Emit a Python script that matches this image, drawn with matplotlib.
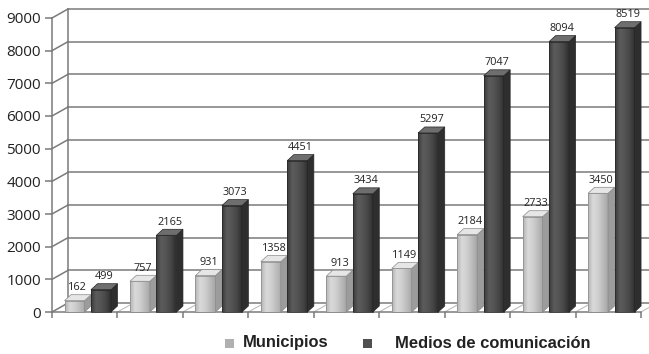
import matplotlib
matplotlib.use("Agg")
import matplotlib.pyplot as plt
import numpy as np
from matplotlib.patches import Polygon, Rectangle
from matplotlib.colors import LinearSegmentedColormap

# Data
groups = list(range(1, 10))
municipios = [162, 757, 931, 1358, 913, 1149, 2184, 2733, 3450]
medios = [499, 2165, 3073, 4451, 3434, 5297, 7047, 8094, 8519]
series_names = ["Municipios", "Medios de comunicación"]
y_ticks = list(range(0, 10000, 1000))

W, H, DPI = 649, 354, 100
fig = plt.figure(figsize=(W / DPI, H / DPI), dpi=DPI)
fig.patch.set_facecolor("white")

# Axes frame: front plane of the pseudo-3D box
left_px, right_px, top_px, bottom_px = 52, 641, 18, 312
ax = fig.add_axes([left_px / W, (H - bottom_px) / H,
                   (right_px - left_px) / W, (bottom_px - top_px) / H])
n = len(groups)

px_x = n / (right_px - left_px)          # data units per pixel (x)
px_y = 9000 / (bottom_px - top_px)       # data units per pixel (y)

# Depth of the walls and of the bars
wall_dx, wall_dy = 16 * px_x, 9 * px_y
bar_dx, bar_dy = 6.5 * px_x, 6 * px_y
# bars are read against the back wall: their front edge is lifted by the
# projected depth between the front plane and the bar's top face
bar_lift = wall_dy - 0.5 * bar_dy

grid_col = "#7a7a7a"
lw = 1.1

# Back wall grid lines and side wall
for t in y_ticks:
    ax.plot([wall_dx, n + 1], [t + wall_dy, t + wall_dy], color=grid_col,
            lw=lw, clip_on=False, zorder=1)
    ax.plot([0, wall_dx], [t, t + wall_dy], color=grid_col, lw=lw,
            clip_on=False, zorder=1)
ax.plot([wall_dx, wall_dx], [wall_dy, 9000 + wall_dy], color=grid_col,
        lw=lw, clip_on=False, zorder=1)

# Floor: depth lines at group boundaries
for i in range(1, n + 1):
    ax.plot([i, i + wall_dx], [0, wall_dy], color="#bdbdbd", lw=0.8,
            clip_on=False, zorder=1)

# Axis styling
for s in ["top", "right"]:
    ax.spines[s].set_visible(False)
for s in ["left", "bottom"]:
    ax.spines[s].set_color(grid_col)
    ax.spines[s].set_linewidth(lw)
ax.spines["bottom"].set_bounds(0, n)
ax.set_yticks(y_ticks)
ax.set_yticklabels([str(t) for t in y_ticks], family="Open Sans", fontsize=11,
                   color="#222222")
ax.tick_params(axis="y", length=5, width=lw, color=grid_col, pad=3)
ax.set_xticks(range(0, n + 1))
ax.set_xticklabels([])
ax.tick_params(axis="x", length=4, width=lw, color=grid_col)
ax.set_facecolor("none")

light = {"grad": ["#b4b4b4", "#dadada", "#cfcfcf", "#bcbcbc", "#a8a8a8"],
         "side": "#9c9c9c", "top": "#e6e6e6", "edge": "#8a8a8a"}
dark = {"grad": ["#3a3a3a", "#5c5c5c", "#545454", "#464646", "#303030"],
        "side": "#2e2e2e", "top": "#6e6e6e", "edge": "#262626"}

bar_w = 20 * px_x
offsets = [12.5 * px_x, 39 * px_x]


def draw_bar(x0, v, c, z):
    x1 = x0 + bar_w
    h = v + bar_lift
    cmap = LinearSegmentedColormap.from_list("face", c["grad"])
    ax.imshow(np.linspace(0, 1, 64).reshape(1, -1), cmap=cmap,
              extent=[x0, x1, 0, h], aspect="auto", interpolation="bilinear",
              zorder=z, clip_on=False)
    ax.add_patch(Rectangle((x0, 0), bar_w, h, facecolor="none",
                           edgecolor=c["edge"], lw=0.5, zorder=z, clip_on=False))
    ax.add_patch(Polygon([(x1, 0), (x1, h), (x1 + bar_dx, h + bar_dy),
                          (x1 + bar_dx, bar_dy)], closed=True,
                         facecolor=c["side"], edgecolor=c["edge"], lw=0.5,
                         zorder=z, clip_on=False))
    ax.add_patch(Polygon([(x0, h), (x1, h), (x1 + bar_dx, h + bar_dy),
                          (x0 + bar_dx, h + bar_dy)], closed=True,
                         facecolor=c["top"], edgecolor=c["edge"], lw=0.5,
                         zorder=z, clip_on=False))
    ax.text(x0 + (bar_w + bar_dx) / 2, h + bar_dy + 1.5 * px_y, str(v),
            ha="center", va="bottom", family="Open Sans", fontsize=7.8,
            color="#222222", zorder=z + 1, clip_on=False)


for i in range(n):
    draw_bar(i + offsets[0], municipios[i], light, 3 + 2 * i)
    draw_bar(i + offsets[1], medios[i], dark, 4 + 2 * i)

ax.set_xlim(0, n)
ax.set_ylim(0, 9000)

# Legend
leg_y = (H - 343) / H
sq = 9
fig.add_artist(Rectangle((225 / W, (H - 348) / H), sq / W, sq / H,
                         transform=fig.transFigure, facecolor="#b0b0b0",
                         edgecolor="none"))
fig.text(243 / W, leg_y, series_names[0], family="Liberation Sans",
         fontweight="bold", fontsize=11.9, va="center", ha="left",
         color="#222222")
fig.add_artist(Rectangle((363 / W, (H - 348) / H), sq / W, sq / H,
                         transform=fig.transFigure, facecolor="#505050",
                         edgecolor="none"))
fig.text(395 / W, leg_y, series_names[1], family="Liberation Sans",
         fontweight="bold", fontsize=11.9, va="center", ha="left",
         color="#222222")

fig.savefig("out.png", dpi=DPI, facecolor="white")
